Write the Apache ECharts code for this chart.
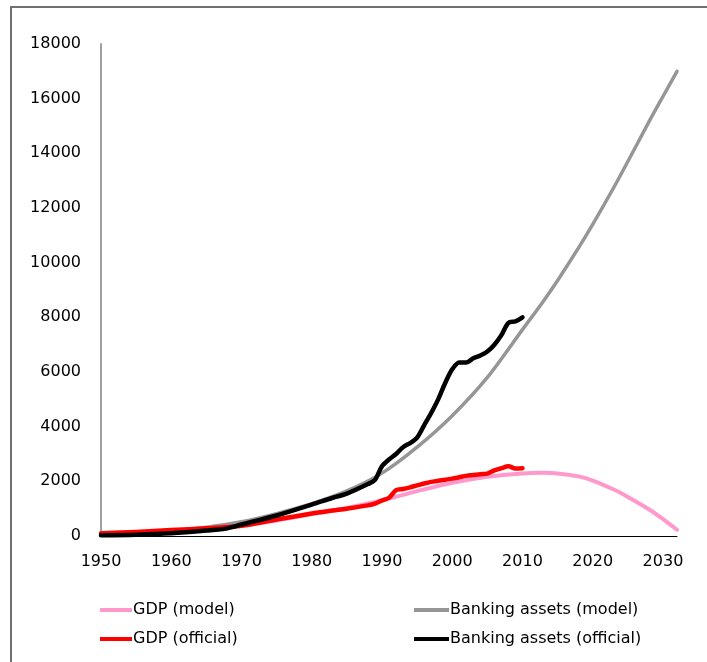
<!DOCTYPE html>
<html>
<head>
<meta charset="utf-8">
<script src="https://cdn.jsdelivr.net/npm/echarts@6/dist/echarts.min.js"></script>
<style>
  html, body { margin: 0; padding: 0; background: #fff; }
  #chart { width: 707px; height: 662px; }
</style>
</head>
<body>
<div id="chart"></div>
<script>
// Model paths (1950-2032)
const modelYears = [1950, 1955, 1960, 1965, 1970, 1975, 1980, 1985, 1990, 1995, 2000, 2005, 2010, 2013, 2015, 2018, 2020, 2023, 2025, 2028, 2030, 2032];
const gdpModel = [40, 90, 160, 260, 400, 570, 800, 1030, 1300, 1640, 1950, 2170, 2290, 2310, 2290, 2180, 2030, 1700, 1430, 980, 620, 230];
const bankModel = [30, 90, 180, 320, 520, 820, 1180, 1650, 2300, 3250, 4400, 5800, 7550, 8600, 9350, 10550, 11400, 12750, 13700, 15150, 16080, 17000];

// Official series (1950-2010)
const officialYears = [1950, 1955, 1960, 1965, 1968, 1970, 1975, 1980, 1983, 1985, 1988, 1989, 1990, 1991, 1992, 1993, 1994, 1995, 1996, 1997, 1998, 1999, 2000, 2001, 2002, 2003, 2004, 2005, 2006, 2007, 2008, 2009, 2010];
const gdpOfficial = [100, 150, 220, 280, 330, 370, 600, 820, 930, 1000, 1120, 1180, 1300, 1400, 1680, 1720, 1780, 1850, 1920, 1980, 2020, 2060, 2100, 2150, 2200, 2230, 2260, 2280, 2400, 2480, 2550, 2470, 2480];
const bankOfficial = [30, 50, 100, 200, 280, 420, 750, 1150, 1400, 1550, 1900, 2050, 2550, 2800, 3000, 3250, 3400, 3600, 4050, 4500, 5000, 5600, 6100, 6350, 6350, 6500, 6600, 6750, 7000, 7350, 7800, 7850, 8000];

const seriesNames = ['GDP (model)', 'Banking assets (model)', 'GDP (official)', 'Banking assets (official)'];
const yearTicks = [1950, 1960, 1970, 1980, 1990, 2000, 2010, 2020, 2030];

const pairs = (xs, ys) => xs.map((x, i) => [x, ys[i]]);
const FONT = 'DejaVu Sans';

const lineSeries = (name, xs, ys, color, width, z) => ({
  name: name,
  type: 'line',
  data: pairs(xs, ys),
  smooth: 0.3,
  showSymbol: false,
  symbol: 'none',
  z: z,
  lineStyle: { color: color, width: width, cap: 'round', join: 'round' },
  itemStyle: { color: color }
});

const chart = echarts.init(document.getElementById('chart'), null, { renderer: 'canvas' });
chart.setOption({
  animation: false,
  backgroundColor: '#ffffff',
  graphic: [{
    type: 'rect',
    shape: { x: 11, y: 7, width: 720, height: 700 },
    style: { fill: null, stroke: '#707070', lineWidth: 2 },
    silent: true,
    z: 0
  }],
  grid: { left: 101, top: 44, right: 30, bottom: 126, containLabel: false },
  xAxis: {
    type: 'value',
    min: 1950,
    max: 2032,
    interval: 10,
    axisLine: { show: true, lineStyle: { color: '#000', width: 1 } },
    axisTick: { show: false },
    splitLine: { show: false },
    axisLabel: {
      margin: 18,
      fontFamily: FONT,
      fontSize: 16,
      color: '#000',
      customValues: yearTicks,
      formatter: v => String(v)
    }
  },
  yAxis: {
    type: 'value',
    min: 0,
    max: 18000,
    interval: 2000,
    axisLine: { show: true, lineStyle: { color: '#a0a0a0', width: 2 } },
    axisTick: { show: false },
    splitLine: { show: false },
    axisLabel: { margin: 20, fontFamily: FONT, fontSize: 16, color: '#000', formatter: v => String(v) }
  },
  legend: [{
    data: [seriesNames[0], seriesNames[2]],
    orient: 'vertical',
    left: 95,
    top: 597,
    icon: 'rect',
    itemWidth: 32,
    itemHeight: 4,
    itemGap: 13,
    textStyle: { fontFamily: FONT, fontSize: 16, color: '#000', padding: [0, 0, 0, -4] }
  }, {
    data: [seriesNames[1], seriesNames[3]],
    orient: 'vertical',
    left: 409,
    top: 597,
    icon: 'rect',
    itemWidth: 35,
    itemHeight: 4,
    itemGap: 13,
    textStyle: { fontFamily: FONT, fontSize: 16, color: '#000', padding: [0, 0, 0, -4] }
  }],
  series: [
    lineSeries(seriesNames[0], modelYears, gdpModel, '#ff99cc', 4, 2),
    lineSeries(seriesNames[1], modelYears, bankModel, '#969696', 3.5, 2),
    lineSeries(seriesNames[2], officialYears, gdpOfficial, '#ff0000', 4.5, 3),
    lineSeries(seriesNames[3], officialYears, bankOfficial, '#000000', 4.5, 4)
  ]
});
</script>
</body>
</html>
